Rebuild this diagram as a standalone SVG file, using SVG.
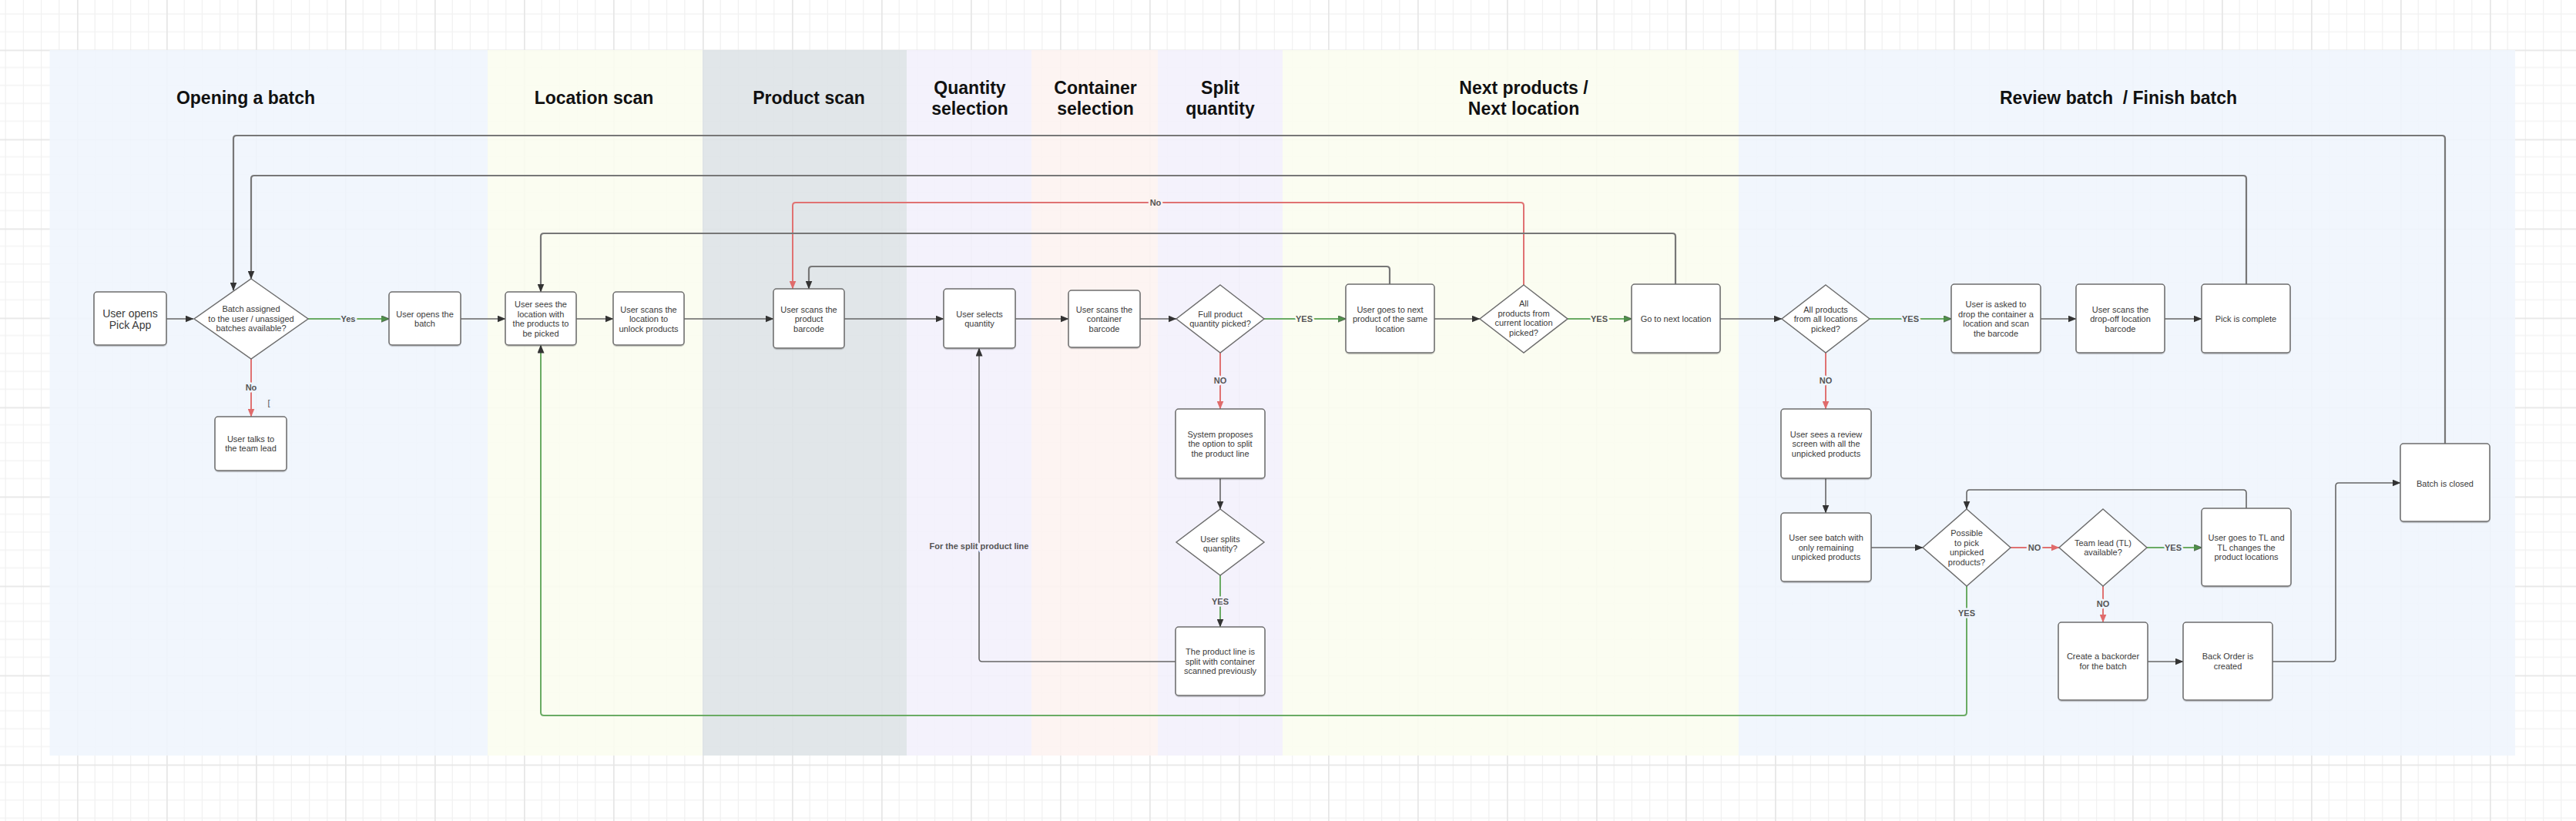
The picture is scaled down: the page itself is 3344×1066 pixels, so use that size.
<svg xmlns="http://www.w3.org/2000/svg" width="3344" height="1066" viewBox="0 0 3344 1066">
<defs>
<pattern id="grid" x="-16" y="-51.5" width="116" height="116" patternUnits="userSpaceOnUse">
<rect width="116" height="116" fill="#ffffff"/>
<path d="M23.2 0V116M46.4 0V116M69.6 0V116M92.8 0V116M0 23.2H116M0 46.4H116M0 69.6H116M0 92.8H116" stroke="#f1f1f1" stroke-width="1.2" fill="none"/>
<path d="M0.8 0V116M0 0.8H116" stroke="#e6e6e6" stroke-width="1.8" fill="none"/>
</pattern>
<marker id="ad" markerUnits="userSpaceOnUse" markerWidth="11" markerHeight="9" refX="10.5" refY="4.5" orient="auto"><path d="M0 0L11 4.5L0 9z" fill="#333"/></marker>
<marker id="ar" markerUnits="userSpaceOnUse" markerWidth="11" markerHeight="9" refX="10.5" refY="4.5" orient="auto"><path d="M0 0L11 4.5L0 9z" fill="#e06b6b"/></marker>
<marker id="ag" markerUnits="userSpaceOnUse" markerWidth="11" markerHeight="9" refX="10.5" refY="4.5" orient="auto"><path d="M0 0L11 4.5L0 9z" fill="#4f8f4a" stroke="#333" stroke-width="0.6"/></marker>
<filter id="sh" x="-10%" y="-10%" width="120%" height="130%"><feDropShadow dx="0" dy="1.2" stdDeviation="0.6" flood-color="#000" flood-opacity="0.25"/></filter>
</defs>
<style>
.title{font-family:"Liberation Sans",Arial,sans-serif;font-size:23px;font-weight:bold;fill:#111;text-anchor:middle}
.t{font-family:"Liberation Sans",Arial,sans-serif;font-size:11px;fill:#3a3a3a;text-anchor:middle}
.tb{font-family:"Liberation Sans",Arial,sans-serif;font-size:14px;fill:#3a3a3a;text-anchor:middle}
.box{fill:#fff;stroke:#6e6e6e;stroke-width:1.5;filter:url(#sh)}
.dia{fill:#fff;stroke:#6e6e6e;stroke-width:1.5}
.c{fill:none;stroke:#666;stroke-width:1.6}
.cl{fill:none;stroke:#777;stroke-width:2.2}
.cr{fill:none;stroke:#e07272;stroke-width:2}
.cg{fill:none;stroke:#6aab64;stroke-width:2}
.lbl{font-family:"Liberation Sans",Arial,sans-serif;font-size:11px;font-weight:bold;fill:#555;text-anchor:middle;paint-order:stroke;stroke-width:5;stroke-linejoin:round}
</style>
<rect width="3344" height="1066" fill="url(#grid)"/>
<g id="lanes" fill-opacity="0.88">
<rect x="64.5" y="65" width="568.5" height="916" fill="#eff5fd"/>
<rect x="633" y="65" width="279" height="916" fill="#fbfdef"/>
<rect x="912" y="65" width="265" height="916" fill="#dde2e6"/>
<rect x="1177" y="65" width="162" height="916" fill="#f3f0fc"/>
<rect x="1339" y="65" width="164" height="916" fill="#fdf3f0"/>
<rect x="1503" y="65" width="162" height="916" fill="#f3f0fc"/>
<rect x="1665" y="65" width="592" height="916" fill="#fbfdef"/>
<rect x="2257" y="65" width="1008" height="916" fill="#eff5fd"/>
</g>
<g id="titles">
<text class="title" x="319" y="135">Opening a batch</text>
<text class="title" x="771" y="135">Location scan</text>
<text class="title" x="1050" y="135">Product scan</text>
<text class="title" x="1259" y="122">Quantity</text>
<text class="title" x="1259" y="149">selection</text>
<text class="title" x="1422" y="122">Container</text>
<text class="title" x="1422" y="149">selection</text>
<text class="title" x="1584" y="122">Split</text>
<text class="title" x="1584" y="149">quantity</text>
<text class="title" x="1978" y="122">Next products /</text>
<text class="title" x="1978" y="149">Next location</text>
<text class="title" x="2750" y="135" xml:space="preserve">Review batch  / Finish batch</text>
</g>
<g id="connectors">
<path class="c" d="M216 414H251" marker-end="url(#ad)"/>
<path class="cg" d="M400 414H505" marker-end="url(#ag)"/>
<path class="cr" d="M326 466V541" marker-end="url(#ar)"/>
<path class="c" d="M598 414H656" marker-end="url(#ad)"/>
<path class="c" d="M748 414H796" marker-end="url(#ad)"/>
<path class="c" d="M888 414H1004" marker-end="url(#ad)"/>
<path class="c" d="M1096 414H1225" marker-end="url(#ad)"/>
<path class="c" d="M1318 414H1387" marker-end="url(#ad)"/>
<path class="c" d="M1480 414H1527" marker-end="url(#ad)"/>
<path class="cg" d="M1641 414H1747" marker-end="url(#ag)"/>
<path class="c" d="M1862 414H1921" marker-end="url(#ad)"/>
<path class="cg" d="M2035 414H2118" marker-end="url(#ag)"/>
<path class="c" d="M2233 414H2313" marker-end="url(#ad)"/>
<path class="cg" d="M2427 414H2533" marker-end="url(#ag)"/>
<path class="c" d="M2649 414H2695" marker-end="url(#ad)"/>
<path class="c" d="M2810 414H2858" marker-end="url(#ad)"/>
<path class="cl" d="M2916 369V232Q2916 228 2912 228H330Q326 228 326 232V362" marker-end="url(#ad)"/>
<path class="cl" d="M3174 576V180Q3174 176 3170 176H307Q303 176 303 180V377" marker-end="url(#ad)"/>
<path class="cr" d="M1978 370V267Q1978 263 1974 263H1033Q1029 263 1029 267V375" marker-end="url(#ar)"/>
<path class="cl" d="M2175 369V307Q2175 303 2171 303H706Q702 303 702 307V379" marker-end="url(#ad)"/>
<path class="cl" d="M1804 369V350Q1804 346 1800 346H1054Q1050 346 1050 350V375" marker-end="url(#ad)"/>
<path class="cr" d="M1584 458V531" marker-end="url(#ar)"/>
<path class="c" d="M1584 621V661" marker-end="url(#ad)"/>
<path class="cg" d="M1584 747V814" marker-end="url(#ad)"/>
<path class="c" d="M1526 859H1275Q1271 859 1271 855V452" marker-end="url(#ad)"/>
<path class="cr" d="M2370 458V531" marker-end="url(#ar)"/>
<path class="c" d="M2370 621V666" marker-end="url(#ad)"/>
<path class="c" d="M2429 711H2496" marker-end="url(#ad)"/>
<path class="cr" d="M2610 711H2673" marker-end="url(#ar)"/>
<path class="cg" d="M2787 711H2858" marker-end="url(#ag)"/>
<path class="c" d="M2916 660V640Q2916 636 2912 636H2557Q2553 636 2553 640V661" marker-end="url(#ad)"/>
<path class="cr" d="M2730 761V808" marker-end="url(#ar)"/>
<path class="c" d="M2788 859H2834" marker-end="url(#ad)"/>
<path class="c" d="M2950 859H3028Q3032 859 3032 855V631Q3032 627 3036 627H3116" marker-end="url(#ad)"/>
<path class="cg" d="M2553 761V925Q2553 929 2549 929H706Q702 929 702 925V448" marker-end="url(#ad)"/>
<text class="lbl" x="452" y="418" stroke="#eff5fd">Yes</text>
<text class="lbl" x="326" y="507" stroke="#eff5fd">No</text>
<text class="lbl" x="349" y="527" stroke="#eff5fd" style="font-weight:normal">[</text>
<text class="lbl" x="1500" y="267" stroke="#fdf3f0">No</text>
<text class="lbl" x="1693" y="418" stroke="#fbfdef">YES</text>
<text class="lbl" x="2076" y="418" stroke="#fbfdef">YES</text>
<text class="lbl" x="2480" y="418" stroke="#eff5fd">YES</text>
<text class="lbl" x="1584" y="498" stroke="#f3f0fc">NO</text>
<text class="lbl" x="1584" y="785" stroke="#f3f0fc">YES</text>
<text class="lbl" x="1271" y="713" stroke="#f3f0fc">For the split product line</text>
<text class="lbl" x="2370" y="498" stroke="#eff5fd">NO</text>
<text class="lbl" x="2641" y="715" stroke="#eff5fd">NO</text>
<text class="lbl" x="2821" y="715" stroke="#eff5fd">YES</text>
<text class="lbl" x="2730" y="788" stroke="#eff5fd">NO</text>
<text class="lbl" x="2553" y="800" stroke="#eff5fd">YES</text>
</g>
<g id="n1"><rect class="box" x="122" y="379" width="94" height="69" rx="4"/><text class="tb" x="169" y="412">User opens</text><text class="tb" x="169" y="427">Pick App</text></g>
<g id="n2"><polygon class="dia" points="326,362 400,414 326,466 252,414"/><text class="t" x="326" y="405">Batch assigned</text><text class="t" x="326" y="417.5">to the user / unassiged</text><text class="t" x="326" y="430">batches available?</text></g>
<g id="n3"><rect class="box" x="505" y="379" width="93" height="69" rx="4"/><text class="t" x="551.5" y="411.75">User opens the</text><text class="t" x="551.5" y="424.25">batch</text></g>
<g id="n4"><rect class="box" x="656" y="379" width="92" height="69" rx="4"/><text class="t" x="702" y="399.25">User sees the</text><text class="t" x="702" y="411.75">location with</text><text class="t" x="702" y="424.25">the products to</text><text class="t" x="702" y="436.75">be picked</text></g>
<g id="n5"><rect class="box" x="796" y="379" width="92" height="69" rx="4"/><text class="t" x="842" y="405.5">User scans the</text><text class="t" x="842" y="418">location to</text><text class="t" x="842" y="430.5">unlock products</text></g>
<g id="n6"><rect class="box" x="1004" y="375" width="92" height="77" rx="4"/><text class="t" x="1050" y="405.5">User scans the</text><text class="t" x="1050" y="418">product</text><text class="t" x="1050" y="430.5">barcode</text></g>
<g id="n7"><rect class="box" x="1225" y="375" width="93" height="77" rx="4"/><text class="t" x="1271.5" y="411.75">User selects</text><text class="t" x="1271.5" y="424.25">quantity</text></g>
<g id="n8"><rect class="box" x="1387" y="377" width="93" height="74" rx="4"/><text class="t" x="1433.5" y="405.5">User scans the</text><text class="t" x="1433.5" y="418">container</text><text class="t" x="1433.5" y="430.5">barcode</text></g>
<g id="n9"><polygon class="dia" points="1584,370 1641,414 1584,458 1527,414"/><text class="t" x="1584" y="411.75">Full product</text><text class="t" x="1584" y="424.25">quantity picked?</text></g>
<g id="n10"><rect class="box" x="1747" y="369" width="115" height="89" rx="4"/><text class="t" x="1804.5" y="405.5">User goes to next</text><text class="t" x="1804.5" y="418">product of the same</text><text class="t" x="1804.5" y="430.5">location</text></g>
<g id="n11"><polygon class="dia" points="1978,370 2035,414 1978,458 1921,414"/><text class="t" x="1978" y="398.25">All</text><text class="t" x="1978" y="410.75">products from</text><text class="t" x="1978" y="423.25">current location</text><text class="t" x="1978" y="435.75">picked?</text></g>
<g id="n12"><rect class="box" x="2118" y="369" width="115" height="89" rx="4"/><text class="t" x="2175.5" y="418">Go to next location</text></g>
<g id="n13"><polygon class="dia" points="2370,370 2427,414 2370,458 2313,414"/><text class="t" x="2370" y="405.5">All products</text><text class="t" x="2370" y="418">from all locations</text><text class="t" x="2370" y="430.5">picked?</text></g>
<g id="n14"><rect class="box" x="2533" y="369" width="116" height="89" rx="4"/><text class="t" x="2591" y="399.25">User is asked to</text><text class="t" x="2591" y="411.75">drop the container a</text><text class="t" x="2591" y="424.25">location and scan</text><text class="t" x="2591" y="436.75">the barcode</text></g>
<g id="n15"><rect class="box" x="2695" y="369" width="115" height="89" rx="4"/><text class="t" x="2752.5" y="405.5">User scans the</text><text class="t" x="2752.5" y="418">drop-off location</text><text class="t" x="2752.5" y="430.5">barcode</text></g>
<g id="n16"><rect class="box" x="2858" y="369" width="115" height="89" rx="4"/><text class="t" x="2915.5" y="418">Pick is complete</text></g>
<g id="n17"><rect class="box" x="279" y="541" width="93" height="70" rx="4"/><text class="t" x="325.5" y="573.75">User talks to</text><text class="t" x="325.5" y="586.25">the team lead</text></g>
<g id="n18"><rect class="box" x="1526" y="531" width="116" height="90" rx="4"/><text class="t" x="1584" y="567.5">System proposes</text><text class="t" x="1584" y="580">the option to split</text><text class="t" x="1584" y="592.5">the product line</text></g>
<g id="n19"><polygon class="dia" points="1584,661 1641,704 1584,747 1527,704"/><text class="t" x="1584" y="703.75">User splits</text><text class="t" x="1584" y="716.25">quantity?</text></g>
<g id="n20"><rect class="box" x="1526" y="814" width="116" height="89" rx="4"/><text class="t" x="1584" y="850">The product line is</text><text class="t" x="1584" y="862.5">split with container</text><text class="t" x="1584" y="875">scanned previously</text></g>
<g id="n21"><rect class="box" x="2312" y="531" width="117" height="90" rx="4"/><text class="t" x="2370.5" y="567.5">User sees a review</text><text class="t" x="2370.5" y="580">screen with all the</text><text class="t" x="2370.5" y="592.5">unpicked products</text></g>
<g id="n22"><rect class="box" x="2312" y="666" width="117" height="89" rx="4"/><text class="t" x="2370.5" y="702">User see batch with</text><text class="t" x="2370.5" y="714.5">only remaining</text><text class="t" x="2370.5" y="727">unpicked products</text></g>
<g id="n23"><polygon class="dia" points="2553,661 2610,711 2553,761 2496,711"/><text class="t" x="2553" y="696.25">Possible</text><text class="t" x="2553" y="708.75">to pick</text><text class="t" x="2553" y="721.25">unpicked</text><text class="t" x="2553" y="733.75">products?</text></g>
<g id="n24"><polygon class="dia" points="2730,661 2787,711 2730,761 2673,711"/><text class="t" x="2730" y="708.75">Team lead (TL)</text><text class="t" x="2730" y="721.25">available?</text></g>
<g id="n25"><rect class="box" x="2858" y="660" width="116" height="101" rx="4"/><text class="t" x="2916" y="702">User goes to TL and</text><text class="t" x="2916" y="714.5">TL changes the</text><text class="t" x="2916" y="727">product locations</text></g>
<g id="n26"><rect class="box" x="2672" y="808" width="116" height="101" rx="4"/><text class="t" x="2730" y="856">Create a backorder</text><text class="t" x="2730" y="868.5">for the batch</text></g>
<g id="n27"><rect class="box" x="2834" y="808" width="116" height="101" rx="4"/><text class="t" x="2892" y="856">Back Order is</text><text class="t" x="2892" y="868.5">created</text></g>
<g id="n28"><rect class="box" x="3116" y="576" width="116" height="101" rx="4"/><text class="t" x="3174" y="632">Batch is closed</text></g>
</svg>
